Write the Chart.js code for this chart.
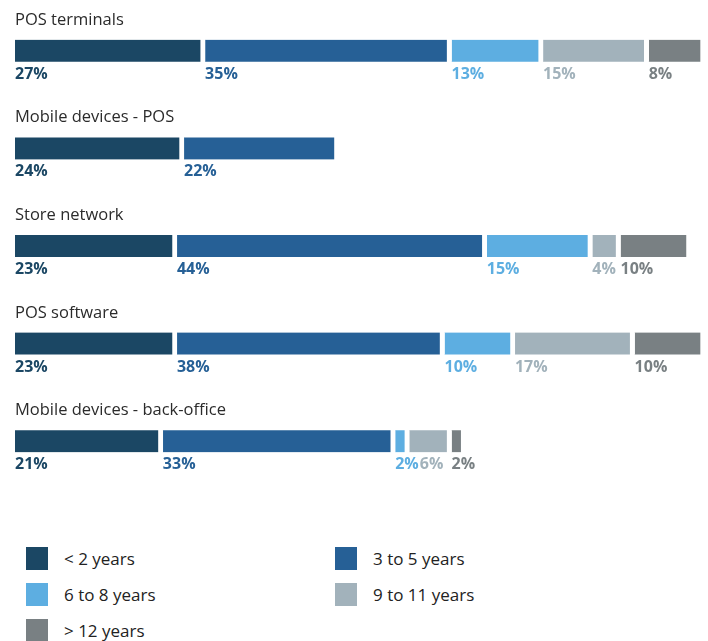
<!DOCTYPE html>
<html>
<head>
<meta charset="utf-8">
<script src="https://cdn.jsdelivr.net/npm/chart.js@4.4.1/dist/chart.umd.min.js"></script>
<style>
  html, body { margin: 0; padding: 0; background: #fff; }
  #wrap { position: relative; width: 708px; height: 641px; }
  #ageChart { position: absolute; left: 0; top: 0; }
  #legend { position: absolute; left: 26px; top: 547px; width: 660px;
            display: grid; grid-template-columns: 309px 309px; row-gap: 13px;
            font-family: "Open Sans", sans-serif; font-size: 17px; color: #222; }
  .item { display: flex; align-items: center; height: 23px; }
  .swatch { width: 22px; height: 23px; margin-right: 16px; }
</style>
</head>
<body>
<div id="wrap">
  <canvas id="ageChart" width="708" height="490"></canvas>
  <div id="legend"></div>
</div>
<script>
var categories = ['POS terminals', 'Mobile devices - POS', 'Store network', 'POS software', 'Mobile devices - back-office'];
var ageGroups = ['< 2 years', '3 to 5 years', '6 to 8 years', '9 to 11 years', '> 12 years'];
var underTwo = [27, 24, 23, 23, 21];
var threeToFive = [35, 22, 44, 38, 33];
var sixToEight = [13, null, 15, 10, 2];
var nineToEleven = [15, null, 4, 17, 6];
var overTwelve = [8, null, 10, 10, 2];
var colors = ['#1b4764', '#266096', '#5daee1', '#a2b2bb', '#798083'];

var series = [underTwo, threeToFive, sixToEight, nineToEleven, overTwelve];

// category name above each bar, percentage under each segment
var barText = {
    id: 'barText',
    afterDatasetsDraw: function (chart) {
        var ctx = chart.ctx;
        var first = chart.getDatasetMeta(0);
        ctx.save();
        ctx.textBaseline = 'alphabetic';
        ctx.textAlign = 'left';
        categories.forEach(function (name, i) {
            var bar = first.data[i];
            ctx.font = '16.5px "Open Sans", sans-serif';
            ctx.fillStyle = '#2b2b2b';
            ctx.fillText(name, chart.chartArea.left, bar.y - 26);

            ctx.font = 'bold 16px "Open Sans", sans-serif';
            var lastEnd = -Infinity;
            chart.data.datasets.forEach(function (ds, d) {
                var v = ds.data[i];
                if (v == null) return;
                var el = chart.getDatasetMeta(d).data[i];
                var txt = v + '%';
                var x = Math.max(el.base, lastEnd + 1);
                ctx.fillStyle = ds.backgroundColor;
                ctx.fillText(txt, x, bar.y + 28);
                lastEnd = x + ctx.measureText(txt).width;
            });
        });
        ctx.restore();
    }
};

var chart = new Chart(document.getElementById('ageChart').getContext('2d'), {
    type: 'bar',
    data: {
        labels: categories,
        datasets: ageGroups.map(function (g, k) {
            return {
                label: g,
                data: series[k],
                backgroundColor: colors[k],
                borderColor: '#ffffff',
                borderWidth: { top: 0, right: 5, bottom: 0, left: 0 },
                borderSkipped: false,
                barThickness: 22
            };
        })
    },
    options: {
        indexAxis: 'y',
        responsive: false,
        animation: false,
        layout: { padding: { left: 15, right: 3, top: 2, bottom: 0 } },
        scales: {
            x: { stacked: true, min: 0, max: 98, display: false },
            y: { stacked: true, display: false }
        },
        plugins: {
            legend: { display: false },
            tooltip: { enabled: false }
        }
    },
    plugins: [barText]
});

// legend built from the datasets, two columns
var legend = document.getElementById('legend');
chart.data.datasets.forEach(function (ds) {
    var item = document.createElement('div');
    item.className = 'item';
    item.innerHTML = '<span class="swatch" style="background:' + ds.backgroundColor + '"></span><span></span>';
    item.lastChild.textContent = ds.label;
    legend.appendChild(item);
});
</script>
</body>
</html>
